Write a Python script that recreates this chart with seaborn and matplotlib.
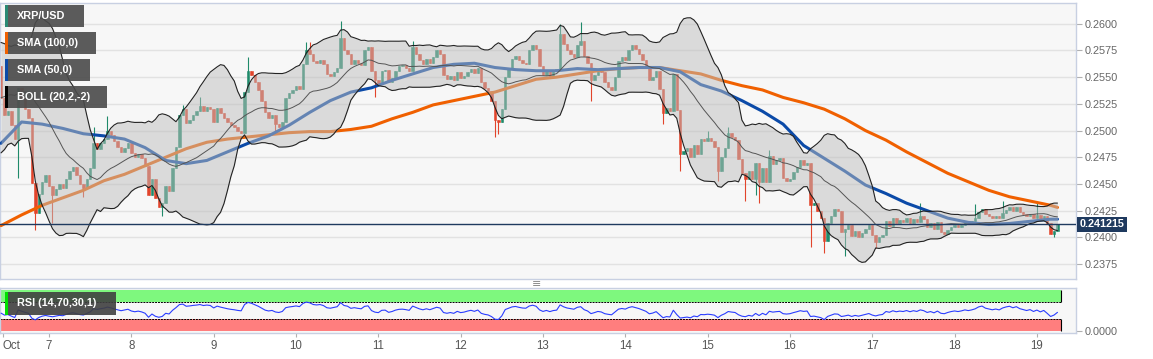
import numpy as np
import pandas as pd
import matplotlib
matplotlib.use("Agg")
import matplotlib.pyplot as plt
import matplotlib.transforms as mtransforms
from matplotlib.patches import Rectangle
import seaborn as sns


# -------------------- DATA --------------------
# hourly closes before the visible window (only used to warm up BOLL / RSI)
warmup_close = [0.2495, 0.2490, 0.2498, 0.2505, 0.2500, 0.2510, 0.2518, 0.2512, 0.2525, 0.2535,
                0.2530, 0.2545, 0.2552, 0.2548, 0.2560, 0.2568, 0.2562, 0.2572, 0.2560]

# hourly closes, Oct 6 10:00 -> Oct 19 06:00
close = [
    0.2530, 0.2515, 0.2518, 0.2505, 0.2492, 0.2540, 0.2530, 0.2520, 0.2512, 0.2451,
    0.2423, 0.2441, 0.2452, 0.2458, 0.2448, 0.2440, 0.2445, 0.2450, 0.2446, 0.2455,
    0.2462, 0.2466, 0.2458, 0.2450, 0.2446, 0.2455, 0.2465, 0.2488, 0.2483, 0.2488,
    0.2492, 0.2500, 0.2496, 0.2490, 0.2485, 0.2480, 0.2484, 0.2488, 0.2479, 0.2475,
    0.2478, 0.2474, 0.2467, 0.2440, 0.2455, 0.2437, 0.2428, 0.2432, 0.2448, 0.2443,
    0.2465, 0.2485, 0.2515, 0.2520, 0.2507, 0.2510, 0.2515, 0.2518, 0.2523, 0.2518,
    0.2522, 0.2520, 0.2508, 0.2521, 0.2516, 0.2512, 0.2508, 0.2505, 0.2503, 0.2500,
    0.2498, 0.2536, 0.2556, 0.2552, 0.2545, 0.2538, 0.2528, 0.2517, 0.2512, 0.2515,
    0.2506, 0.2503, 0.2508, 0.2530, 0.2535, 0.2538, 0.2542, 0.2539, 0.2562, 0.2575,
    0.2572, 0.2565, 0.2563, 0.2566, 0.2562, 0.2553, 0.2551, 0.2555, 0.2559, 0.2587,
    0.2575, 0.2572, 0.2562, 0.2566, 0.2563, 0.2561, 0.2575, 0.2578, 0.2556, 0.2547,
    0.2544, 0.2556, 0.2557, 0.2545, 0.2549, 0.2556, 0.2560, 0.2561, 0.2559, 0.2556,
    0.2578, 0.2572, 0.2566, 0.2562, 0.2567, 0.2563, 0.2569, 0.2575, 0.2572, 0.2552,
    0.2548, 0.2551, 0.2547, 0.2555, 0.2549, 0.2551, 0.2555, 0.2558, 0.2554, 0.2559,
    0.2545, 0.2540, 0.2537, 0.2528, 0.2510, 0.2508, 0.2520, 0.2550, 0.2558, 0.2567,
    0.2570, 0.2566, 0.2563, 0.2562, 0.2575, 0.2580, 0.2576, 0.2560, 0.2552, 0.2557,
    0.2551, 0.2556, 0.2558, 0.2590, 0.2581, 0.2575, 0.2572, 0.2569, 0.2580, 0.2584,
    0.2570, 0.2563, 0.2547, 0.2552, 0.2558, 0.2555, 0.2545, 0.2541, 0.2538, 0.2550,
    0.2565, 0.2569, 0.2566, 0.2575, 0.2580, 0.2576, 0.2572, 0.2566, 0.2560, 0.2547,
    0.2550, 0.2556, 0.2539, 0.2516, 0.2521, 0.2518, 0.2553, 0.2519, 0.2478, 0.2481,
    0.2484, 0.2475, 0.2486, 0.2478, 0.2492, 0.2490, 0.2493, 0.2490, 0.2485, 0.2462,
    0.2475, 0.2484, 0.2498, 0.2494, 0.2491, 0.2473, 0.2460, 0.2455, 0.2462, 0.2455,
    0.2470, 0.2452, 0.2465, 0.2452, 0.2476, 0.2469, 0.2472, 0.2474, 0.2456, 0.2453,
    0.2455, 0.2461, 0.2466, 0.2472, 0.2468, 0.2470, 0.2430, 0.2432, 0.2425, 0.2418,
    0.2397, 0.2413, 0.2420, 0.2427, 0.2425, 0.2405, 0.2408, 0.2412, 0.2401, 0.2406,
    0.2400, 0.2404, 0.2408, 0.2412, 0.2402, 0.2396, 0.2400, 0.2402, 0.2415, 0.2411,
    0.2418, 0.2413, 0.2416, 0.2414, 0.2418, 0.2413, 0.2417, 0.2414, 0.2420, 0.2417,
    0.2410, 0.2413, 0.2408, 0.2414, 0.2405, 0.2403, 0.2407, 0.2410, 0.2412, 0.2410,
    0.2412, 0.2415, 0.2413, 0.2415, 0.2418, 0.2424, 0.2427, 0.2422, 0.2420, 0.2418,
    0.2420, 0.2418, 0.2423, 0.2426, 0.2428, 0.2425, 0.2428, 0.2424, 0.2422, 0.2420,
    0.2422, 0.2418, 0.2421, 0.2417, 0.2420, 0.2413, 0.2403, 0.2406, 0.241215,
]

# long wicks (hour index -> price)
high_spikes = {27: 0.2503, 31: 0.2514, 53: 0.2524, 58: 0.2531, 72: 0.2569, 89: 0.2583,
               90: 0.2583, 99: 0.2603, 120: 0.2584, 163: 0.2600, 169: 0.2602, 206: 0.2500,
               212: 0.2503, 224: 0.2482, 268: 0.2432, 284: 0.2431, 292: 0.2434, 302: 0.2433}
low_spikes = {5: 0.2456, 10: 0.2407, 15: 0.2413, 24: 0.2438, 47: 0.2420, 80: 0.2500,
              109: 0.2531, 144: 0.2494, 145: 0.2497, 172: 0.2528, 193: 0.2506, 198: 0.2462,
              209: 0.2453, 217: 0.2434, 220: 0.2440, 221: 0.2432, 236: 0.2391, 240: 0.2385,
              246: 0.2383, 255: 0.2390, 307: 0.2400}

# moving averages, every 6 hours
sma_hours = list(range(0, 307, 6)) + [308]
sma50 = [0.2488, 0.2508, 0.2506, 0.2502, 0.2497, 0.2495, 0.2492, 0.2484, 0.2472, 0.2469,
         0.2472, 0.2480, 0.2488, 0.2495, 0.2505, 0.2517, 0.2528, 0.2536, 0.2540, 0.2547,
         0.2553, 0.2559, 0.2562, 0.2563, 0.2559, 0.2557, 0.2556, 0.2556, 0.2558, 0.2557,
         0.2558, 0.2559, 0.2559, 0.2555, 0.2543, 0.2537, 0.2528, 0.2518, 0.2506, 0.2486,
         0.2474, 0.2462, 0.2449, 0.2441, 0.2432, 0.2425, 0.2418, 0.2414, 0.2412, 0.2413,
         0.2415, 0.2417, 0.2417]
sma100 = [0.2411, 0.2421, 0.2430, 0.2437, 0.2444, 0.2453, 0.2459, 0.2467, 0.2475, 0.2483,
          0.2489, 0.2492, 0.2494, 0.2496, 0.2498, 0.2499, 0.2499, 0.2501, 0.2504, 0.2511,
          0.2517, 0.2524, 0.2528, 0.2532, 0.2536, 0.2542, 0.2548, 0.2550, 0.2553, 0.2556,
          0.2558, 0.2559, 0.2559, 0.2556, 0.2553, 0.2547, 0.2542, 0.2538, 0.2531, 0.2526,
          0.2520, 0.2511, 0.2500, 0.2491, 0.2480, 0.2470, 0.2460, 0.2452, 0.2444, 0.2438,
          0.2434, 0.2430, 0.2428]

last_price = 0.241215
price_ticks = [0.2375, 0.2400, 0.2425, 0.2450, 0.2475, 0.2500, 0.2525, 0.2550, 0.2575, 0.2600]
day_hours = [0.5, 14, 38, 62, 86, 110, 134, 158, 182, 206, 230, 254, 278, 302]
day_labels = ["Oct", "7", "8", "9", "10", "11", "12", "13", "14", "15", "16", "17", "18", "19"]

GREEN = "#1f8a6a"
RED = "#e2442b"
W, H = 1153, 359


# -------------------- INDICATORS --------------------
def build_frame():
    full = pd.Series(warmup_close + close, dtype=float)
    n0 = len(warmup_close)
    mid = full.rolling(20).mean()
    sd = full.rolling(20).std(ddof=0)

    delta = full.diff()
    gain = delta.clip(lower=0).ewm(alpha=1 / 14, adjust=False).mean()
    loss = (-delta.clip(upper=0)).ewm(alpha=1 / 14, adjust=False).mean()
    rsi = 100 - 100 / (1 + gain / loss)

    df = pd.DataFrame({
        "hour": np.arange(len(close)),
        "open": full.shift(1).iloc[n0:].values,
        "close": full.iloc[n0:].values,
        "mid": mid.iloc[n0:].values,
        "upper": (mid + 2 * sd).iloc[n0:].values,
        "lower": (mid - 2 * sd).iloc[n0:].values,
        "rsi": rsi.iloc[n0:].values,
    })
    df["high"] = df[["open", "close"]].max(axis=1)
    df["low"] = df[["open", "close"]].min(axis=1)
    for k, v in high_spikes.items():
        df.loc[k, "high"] = max(v, df.loc[k, "high"])
    for k, v in low_spikes.items():
        df.loc[k, "low"] = min(v, df.loc[k, "low"])
    return df


def fig_box(x0, y0, w, h):
    return (x0 / W, 1 - (y0 + h) / H, w / W, h / H)


def add_tag(fig, label, strip, x0, y0, w, h, face="#4a4a4a"):
    fx, fy, fw, fh = fig_box(x0, y0, w, h)
    fig.add_artist(Rectangle((fx, fy), fw, fh, transform=fig.transFigure,
                             facecolor=face, alpha=0.9, lw=0, zorder=10))
    sx, sy, sw, sh = fig_box(x0, y0, 3, h)
    fig.add_artist(Rectangle((sx, sy), sw, sh, transform=fig.transFigure,
                             facecolor=strip, lw=0, zorder=11))
    fig.text((x0 + 12) / W, 1 - (y0 + h / 2) / H, label, color="white",
             fontsize=7.8, fontweight="bold", va="center", ha="left", zorder=12)


# -------------------- PLOT --------------------
def main():
    df = build_frame()

    sns.set_style("white")
    plt.rcParams["font.family"] = ["Liberation Sans", "DejaVu Sans"]

    fig = plt.figure(figsize=(W / 100, H / 100), dpi=100)
    ax = fig.add_axes([0, 279 / H * 0 + 1 - 279 / H, 1076 / W, 276 / H])
    ax_rsi = fig.add_axes([0, 1 - 333 / H, 1076 / W, 45 / H])

    xlim = (-0.3, 313.4)
    for a in (ax, ax_rsi):
        a.set_facecolor("#f7f7f7")
        a.set_xlim(*xlim)
        for sp in a.spines.values():
            sp.set_color("#c8d0e2")
            sp.set_linewidth(1)

    # candles
    up = df["close"] >= df["open"]
    colors = np.where(up, GREEN, RED)
    ax.vlines(df["hour"], df["low"], df["high"], colors=colors, lw=0.8, zorder=2)
    ax.bar(df["hour"], (df["close"] - df["open"]).abs(),
           bottom=df[["open", "close"]].min(axis=1), width=0.72,
           color=colors, edgecolor=colors, linewidth=0.4, zorder=2)

    # moving averages
    sma = pd.DataFrame({"hour": sma_hours, "sma50": sma50, "sma100": sma100})
    sns.lineplot(data=sma, x="hour", y="sma100", color="#f06000", lw=2.2, ax=ax, zorder=3)
    sns.lineplot(data=sma, x="hour", y="sma50", color="#0b4aa8", lw=2.2, ax=ax, zorder=3)

    # bollinger band
    ax.fill_between(df["hour"], df["lower"], df["upper"], color="#bebebe", alpha=0.5, lw=0, zorder=4)
    sns.lineplot(data=df, x="hour", y="upper", color="#222222", lw=0.8, ax=ax, zorder=5)
    sns.lineplot(data=df, x="hour", y="lower", color="#222222", lw=0.8, ax=ax, zorder=5)
    sns.lineplot(data=df, x="hour", y="mid", color="#555555", lw=0.7, ax=ax, zorder=5)

    # last price
    ax.axhline(last_price, color="#1f3a5f", lw=1, zorder=6)
    trans = mtransforms.blended_transform_factory(ax.transAxes, ax.transData)
    ax.text(1.003, last_price, f"{last_price:.6f}", transform=trans, color="white",
            fontsize=7.8, fontweight="bold", va="center", ha="left", clip_on=False, zorder=7,
            bbox=dict(boxstyle="square,pad=0.25", facecolor="#1f3a5f", edgecolor="none"))

    ax.set_ylim(0.23610, 0.26194)
    ax.yaxis.tick_right()
    ax.set_yticks(price_ticks)
    ax.set_yticklabels([f"{v:.4f}" for v in price_ticks])
    ax.tick_params(axis="y", right=True, length=4, color="#b0b0b0", labelcolor="#666666",
                   labelsize=7.8, pad=2)
    ax.set_xticks([])
    ax.grid(axis="y", color="#e2e2e2", lw=1)
    ax.set_axisbelow(True)
    ax.set_xlabel("")
    ax.set_ylabel("")

    # RSI panel
    ax_rsi.set_ylim(-4.9, 104.9)
    x_end = 309
    ax_rsi.fill_between([xlim[0], x_end], 70, 100, color="#7ef87e", lw=0, zorder=1)
    ax_rsi.fill_between([xlim[0], x_end], 0, 30, color="#ff7e7e", lw=0, zorder=1)
    ax_rsi.hlines([70, 30], xlim[0], x_end, colors="black", linestyles=(0, (2, 1)), lw=0.7, zorder=2)
    ax_rsi.vlines(x_end, 70, 100, colors="black", lw=0.8, zorder=2)
    ax_rsi.vlines(x_end, 0, 30, colors="black", lw=0.8, zorder=2)
    sns.lineplot(data=df, x="hour", y="rsi", color="#2a3cff", lw=0.8, ax=ax_rsi, zorder=3)

    ax_rsi.yaxis.tick_right()
    ax_rsi.set_yticks([0])
    ax_rsi.set_yticklabels(["0.0000"])
    ax_rsi.tick_params(axis="y", right=True, length=4, color="#b0b0b0", labelcolor="#666666",
                       labelsize=7.8, pad=2)
    ax_rsi.set_xticks(day_hours)
    ax_rsi.set_xticklabels(day_labels)
    ax_rsi.tick_params(axis="x", bottom=True, length=3, color="#b0b0b0", labelcolor="#555555",
                       labelsize=8.3, pad=2)
    ax_rsi.get_xticklabels()[0].set_ha("left")
    ax_rsi.set_xlabel("")
    ax_rsi.set_ylabel("")

    # legend tags
    add_tag(fig, "XRP/USD", "#2a8a74", 5, 5, 79, 22)
    add_tag(fig, "SMA (100,0)", "#f06000", 5, 32, 91, 22)
    add_tag(fig, "SMA (50,0)", "#0b4aa8", 5, 59, 85, 22)
    add_tag(fig, "BOLL (20,2,-2)", "black", 5, 86, 102, 22)
    add_tag(fig, "RSI (14,70,30,1)", "#00e000", 5, 292, 111, 23, face="#404040")

    fig.text(537 / W, 1 - 284 / H, "\u2261", color="#888888", fontsize=8,
             ha="center", va="center", family=["DejaVu Sans"])

    fig.savefig("out.png", dpi=100, facecolor="white")


if __name__ == "__main__":
    main()
